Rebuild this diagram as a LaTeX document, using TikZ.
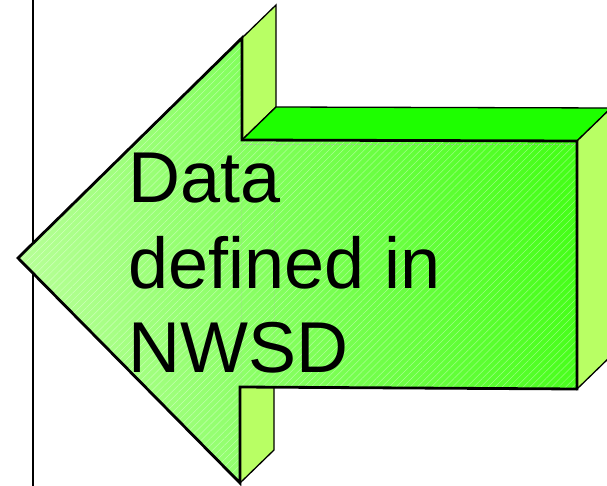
\documentclass[tikz,border=0pt]{standalone}
\usepackage{fontspec}
\newfontfamily\arialfont{Liberation Sans}
\usetikzlibrary{patterns.meta}
\definecolor{frontlight}{RGB}{182,255,150}
\definecolor{frontdark}{RGB}{70,255,25}
\definecolor{topgreen}{RGB}{30,255,0}
\definecolor{sidegreen}{RGB}{184,255,100}
\tikzset{
  sideface/.style={draw=black, line width=1.3pt, line join=miter, fill=sidegreen},
  topface/.style={draw=black, line width=1.3pt, line join=miter, fill=topgreen},
  frontedge/.style={draw=black, line width=2.8pt, line join=miter},
  hidden/.style={draw=gray!60, densely dotted, line width=0.5pt, opacity=0.6},
  label/.style={anchor=base west, inner sep=0pt, font=\arialfont\fontsize{72}{85}\selectfont, text=black},
}
\begin{document}
\begin{tikzpicture}[x=1pt, y=-1pt]
\useasboundingbox (0,0) rectangle (607,486);
\begin{scope}
\clip (0,0) rectangle (607,486);

% margin rule
\coordinate (ruleT) at (33,0);
\coordinate (ruleB) at (33,486);
\draw[line width=1.3pt] (ruleT) -- (ruleB);

% arrow corners: front face
\coordinate (tip) at (18,258);
\coordinate (hu) at (242,38);
\coordinate (su) at (242,140);
\coordinate (tr) at (577,141);
\coordinate (br) at (577,389);
\coordinate (sl) at (240,387);
\coordinate (hl) at (240,483);
% back corners (depth offset)
\coordinate (hub) at (276,5);
\coordinate (sub) at (276,107);
\coordinate (trb) at (611,108);
\coordinate (brb) at (611,356);
\coordinate (slb) at (274,387);
\coordinate (hlb) at (274,450);

% extruded faces
\path[sideface] (hu) -- (hub) -- (sub) -- (su) -- cycle;
\path[topface] (su) -- (sub) -- (trb) -- (tr) -- cycle;
\path[sideface] (tr) -- (trb) -- (brb) -- (br) -- cycle;
\path[sideface] (sl) -- (slb) -- (hlb) -- (hl) -- cycle;

% front face
\shade[left color=frontlight, right color=frontdark, shading angle=100]
  (tip) -- (hu) -- (su) -- (tr) -- (br) -- (sl) -- (hl) -- cycle;
\fill[pattern={Lines[angle=45, distance=5pt, line width=0.5pt]}, pattern color=white, opacity=0.4]
  (tip) -- (hu) -- (su) -- (tr) -- (br) -- (sl) -- (hl) -- cycle;

% hidden edges seen through the front face
\draw[hidden] (242,144) -- (576,144);
\draw[hidden] (242,144) -- (241,386);
\draw[hidden] (275,144) -- (274,386);

\path[frontedge] (tip) -- (hu) -- (su) -- (tr) -- (br) -- (sl) -- (hl) -- cycle;

% caption
\node[label] (l1) at (128,203) {Data};
\node[label] (l2) at (128,288) {defined in};
\node[label] (l3) at (128,372) {NWSD};
\end{scope}
\end{tikzpicture}
\end{document}
